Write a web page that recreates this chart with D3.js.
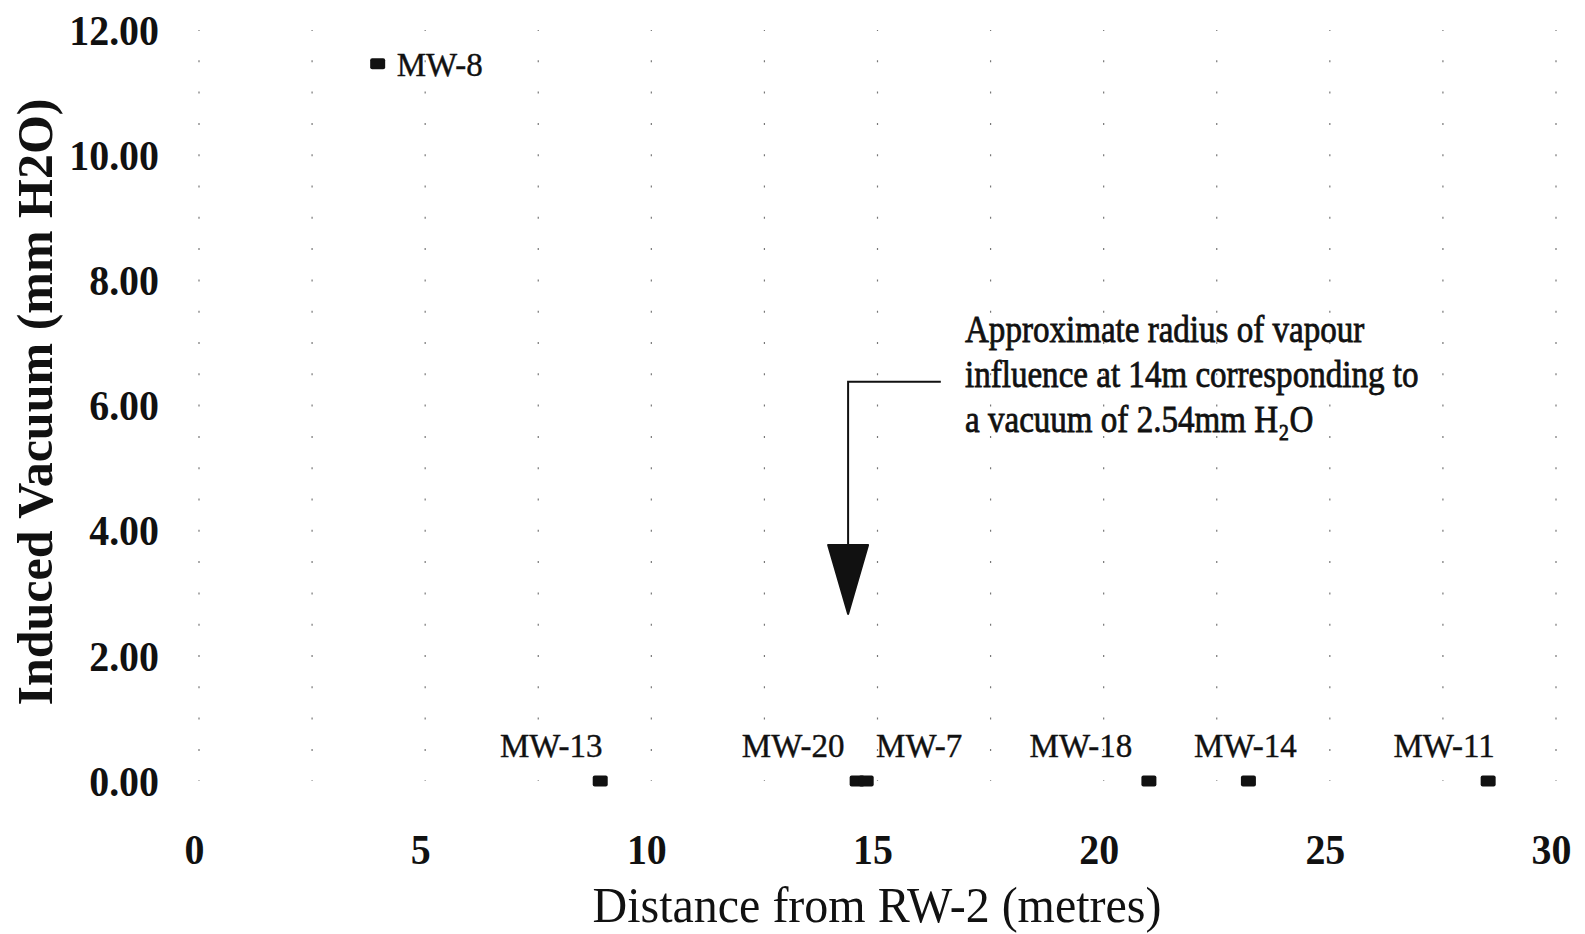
<!DOCTYPE html>
<html>
<head>
<meta charset="utf-8">
<script src="https://cdn.jsdelivr.net/npm/d3@7"></script>
<style>
  html, body { margin: 0; padding: 0; background: #fff; }
  svg { display: block; }
  text { font-family: "Liberation Serif", "Times New Roman", serif; fill: #111; }
</style>
</head>
<body>
<div id="chart"></div>
<script>
// data
const wells = ["MW-8", "MW-13", "MW-20", "MW-7", "MW-18", "MW-14", "MW-11"];
const distance = [3.95, 8.87, 14.55, 14.75, 21.0, 23.2, 28.5];
const vacuum = [11.46, 0, 0, 0, 0, 0, 0];

const xTicks = [0, 5, 10, 15, 20, 25, 30];
const yTicks = [0, 2, 4, 6, 8, 10, 12];
const xGrid = d3.range(0, 30.01, 2.5);

const noteLines = [
    "Approximate radius of vapour",
    "influence at 14m corresponding to",
    "a vacuum of 2.54mm H\u2082O"
];
// arrow: elbow and tip, in data units
const arrowElbow = { x: 14.35, y: 6.38, xEnd: 16.4 };
const arrowTip = { x: 14.35, y: 2.67 };

// label placement relative to each marker (pixels)
const labelDx = [19, -49, -64, 53, -68, -3, -44];

const width = 1585, height = 934;
const svg = d3.select("#chart").append("svg")
    .attr("width", width)
    .attr("height", height);

const x = d3.scaleLinear().domain([0, 30]).range([199, 1556]);
const y = d3.scaleLinear().domain([0, 12]).range([781, 30]);

// faint dotted grid
svg.append("g")
    .selectAll("line")
    .data(xGrid)
    .join("line")
    .attr("x1", d => x(d)).attr("x2", d => x(d))
    .attr("y1", y(12)).attr("y2", y(0))
    .attr("stroke", "#777")
    .attr("stroke-width", 1.2)
    .attr("stroke-dasharray", "2,29.3")
    .attr("stroke-dashoffset", 1);

// y axis
const yAxis = svg.append("g")
    .attr("transform", `translate(${x(0)},0)`)
    .call(d3.axisLeft(y).tickValues(yTicks).tickSize(0).tickFormat(d3.format(".2f")));
yAxis.select(".domain").remove();
yAxis.selectAll("text")
    .attr("x", null).attr("dy", "0.34em")
    .attr("text-anchor", "end")
    .attr("transform", "translate(-40,0) scale(0.95,1)")
    .style("font-size", "42px").style("font-weight", "bold")
    .style("font-family", "Liberation Serif, serif");

// x axis
const xAxis = svg.append("g")
    .attr("transform", `translate(0,${y(0)})`)
    .call(d3.axisBottom(x).tickValues(xTicks).tickSize(0).tickFormat(d3.format("d")));
xAxis.select(".domain").remove();
xAxis.selectAll("text")
    .attr("y", null).attr("dy", null)
    .attr("text-anchor", "middle")
    .attr("transform", "translate(-5,83) scale(0.95,1)")
    .style("font-size", "42px").style("font-weight", "bold")
    .style("font-family", "Liberation Serif, serif");

// axis titles
svg.append("text")
    .attr("transform", "translate(52,402) rotate(-90)")
    .attr("text-anchor", "middle")
    .style("font-size", "50px").style("font-weight", "bold")
    .text("Induced Vacuum (mm H2O)");

svg.append("text")
    .attr("transform", "translate(877,922) scale(0.96,1)")
    .attr("text-anchor", "middle")
    .style("font-size", "50px")
    .text("Distance from RW-2 (metres)");

// markers
const pts = wells.map((w, i) => ({ name: w, d: distance[i], v: vacuum[i], dx: labelDx[i] }));

svg.append("g")
    .selectAll("rect")
    .data(pts)
    .join("rect")
    .attr("x", d => x(d.d) - 7.5)
    .attr("y", d => y(d.v) - 5.5)
    .attr("width", 15)
    .attr("height", 11)
    .attr("rx", 2)
    .attr("fill", "#111");

svg.append("g")
    .selectAll("text")
    .data(pts)
    .join("text")
    .attr("x", d => x(d.d) + d.dx)
    .attr("y", d => d.v > 0 ? y(d.v) + 12 : y(d.v) - 24)
    .attr("text-anchor", d => d.v > 0 ? "start" : "middle")
    .style("font-size", "33px")
    .style("stroke", "#111").style("stroke-width", 0.4)
    .text(d => d.name);

// annotation arrow
svg.append("path")
    .attr("d", `M${x(arrowElbow.xEnd)},${y(arrowElbow.y)}H${x(arrowElbow.x)}V${y(3.7)}`)
    .attr("fill", "none")
    .attr("stroke", "#111")
    .attr("stroke-width", 2);

const tipX = x(arrowTip.x), tipY = y(arrowTip.y);
svg.append("path")
    .attr("d", `M${tipX - 20},${tipY - 69}L${tipX + 20},${tipY - 69}L${tipX},${tipY}Z`)
    .attr("fill", "#111")
    .attr("stroke", "#111")
    .attr("stroke-width", 2)
    .attr("stroke-linejoin", "round");

svg.append("g")
    .selectAll("text")
    .data(noteLines)
    .join("text")
    .attr("transform", (d, i) => `translate(965,${342 + i * 45}) scale(0.87,1)`)
    .style("font-size", "38px")
    .style("stroke", "#111").style("stroke-width", 0.8)
    .text(d => d);
</script>
</body>
</html>
